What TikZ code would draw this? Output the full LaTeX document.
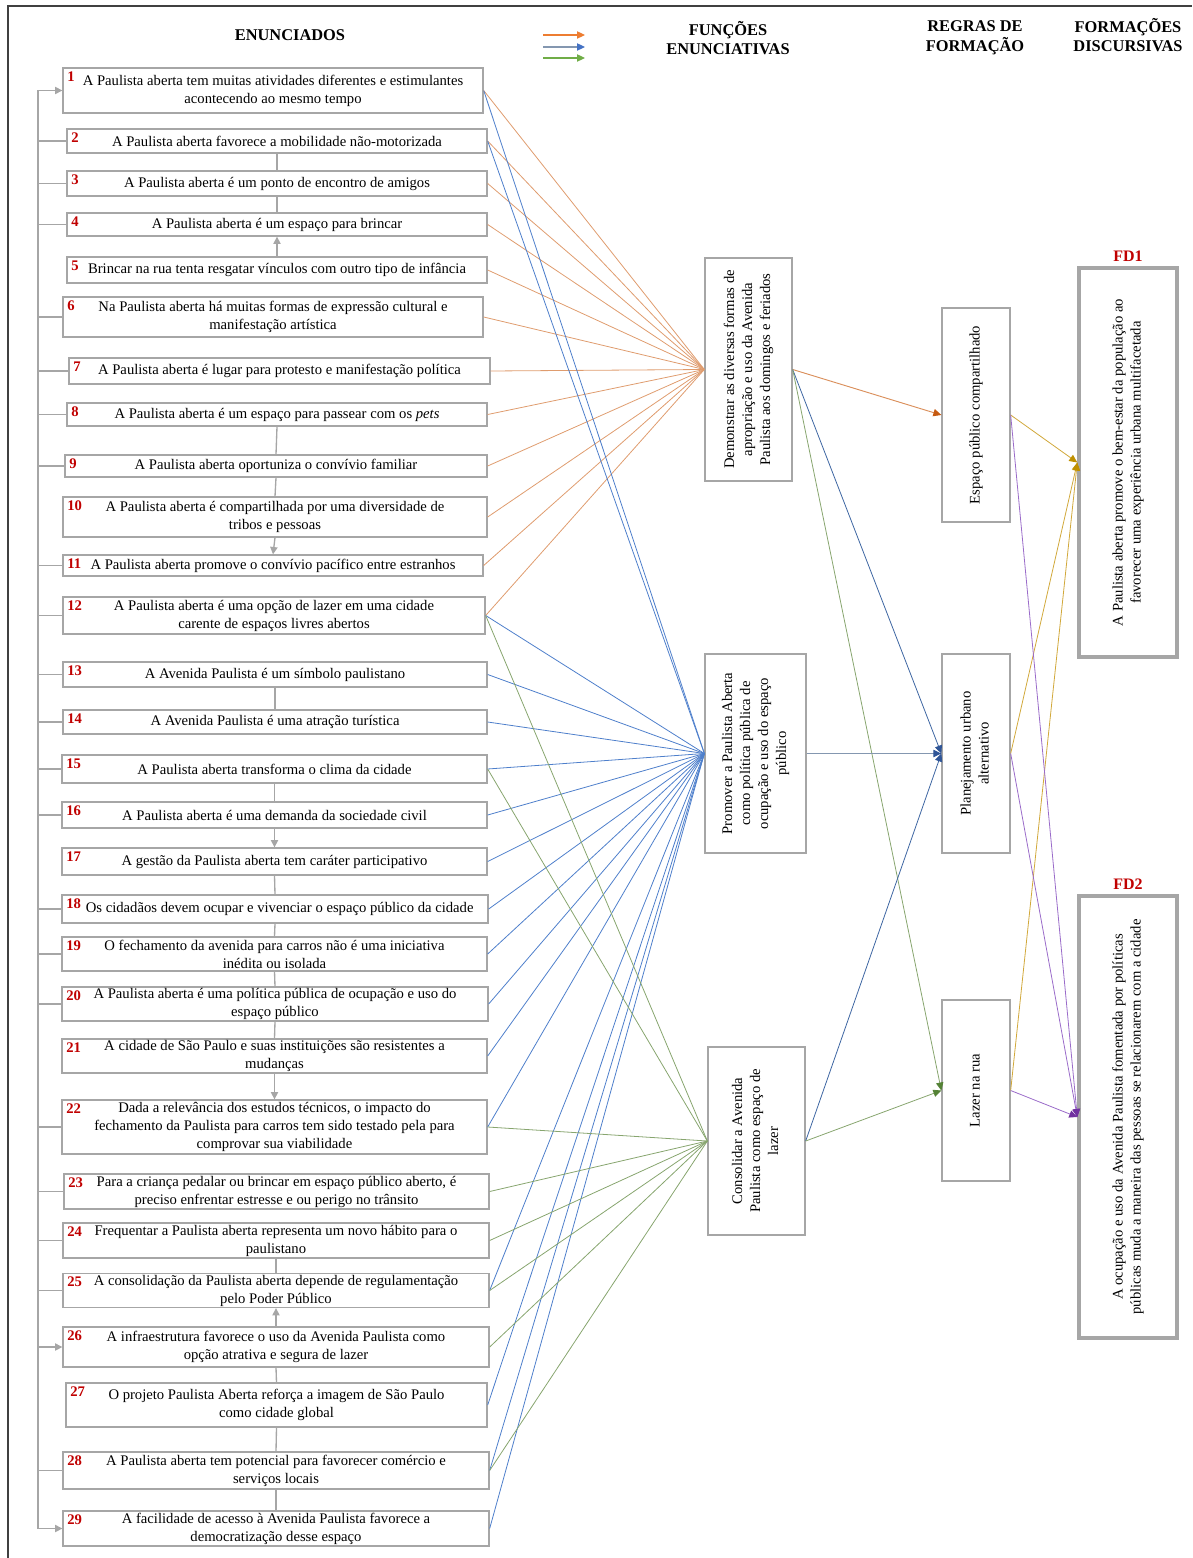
\documentclass[tikz,border=0pt]{standalone}
\usepackage{fontspec}
\setmainfont{Liberation Serif}
\usetikzlibrary{arrows.meta,positioning}

\definecolor{bxgr}{HTML}{A6A6A6}
\definecolor{frmgr}{HTML}{404040}
\definecolor{numred}{HTML}{C00000}
\definecolor{orline}{HTML}{DF9C6E}
\definecolor{blline}{HTML}{4E7FCB}
\definecolor{grline}{HTML}{87A56E}
\definecolor{ortip}{HTML}{C55A11}
\definecolor{orlegend}{HTML}{ED7D31}
\definecolor{bltip}{HTML}{2F5597}
\definecolor{bllegend}{HTML}{4472C4}
\definecolor{grtip}{HTML}{548235}
\definecolor{grlegend}{HTML}{70AD47}
\definecolor{gdline}{HTML}{D1A83A}
\definecolor{gdtip}{HTML}{BF9000}
\definecolor{ppline}{HTML}{9A6BC9}
\definecolor{pptip}{HTML}{7030A0}
\definecolor{slate}{HTML}{8497B0}

\tikzset{
  enun/.style={draw=bxgr, line width=1pt, align=center, inner sep=1pt,
    font=\fontsize{11}{13.5}\selectfont},
  enumnum/.style={anchor=north west, inner sep=1pt, text=numred,
    font=\bfseries\fontsize{11}{13}\selectfont},
  func/.style={draw=bxgr, line width=1pt, inner sep=1pt,
    font=\fontsize{11}{13.5}\selectfont},
  fdbox/.style={func, line width=2.6pt},
  head/.style={align=center, font=\bfseries\fontsize{12.3}{14.8}\selectfont},
  fdlbl/.style={inner sep=1pt, text=numred, font=\bfseries\fontsize{12}{14}\selectfont},
  frame/.style={draw=frmgr, line width=0.8pt},
  brk/.style={draw=bxgr, line width=1pt},
  brkar/.style={brk, -{Triangle[length=5.5pt,width=5.5pt]}},
  orln/.style={draw=orline, line width=0.6pt},
  blln/.style={draw=blline, line width=0.6pt},
  grln/.style={draw=grline, line width=0.6pt},
  arhd/.style={-{Triangle[length=6pt,width=5.5pt,color=#1]}},
}

% name, x1, y1, x2, y2, number, text
\newcommand\enun[7]{%
  \node[enun, minimum width={(#4-#2)*0.75pt}, minimum height={(#5-#3)*0.75pt}]
    (#1) at ({(#2+#4)/2},{(#3+#5)/2}) {#7};
  \node[enumnum] (#1n) at ([shift={(2.5pt,-2pt)}]#1.north west) {#6};}
\newcommand\vlabel[1]{\rotatebox{90}{\begin{tabular}{@{}c@{}}#1\end{tabular}}}

\begin{document}
\begin{tikzpicture}[x=0.75pt,y=-0.75pt]
  \useasboundingbox (0,0) rectangle (1192,1558);
  %%%%% FRAME %%%%%
  \coordinate (fa) at (8,1558);
  \coordinate (fb) at (8,6);
  \coordinate (fc) at (1192,6);
  \draw[frame] (fa) -- (fb) -- (fc);

  %%%%% HEADERS %%%%%
  \node[head] (hen) at (290,35) {ENUNCIADOS};
  \node[head] (hfe) at (728,38) {FUNÇÕES\\ENUNCIATIVAS};
  \node[head] (hrf) at (975,38) {REGRAS DE\\FORMAÇÃO};
  \node[head] (hfd) at (1128,35) {FORMAÇÕES\\DISCURSIVAS};

  \coordinate (lg1a) at (543,35); \coordinate (lg1b) at (585,35);
  \coordinate (lg2a) at (543,47); \coordinate (lg2b) at (585,47);
  \coordinate (lg3a) at (543,58); \coordinate (lg3b) at (585,58);
  \draw[draw=orlegend, line width=0.8pt, arhd=orlegend] (lg1a) -- (lg1b);
  \draw[draw=slate, line width=0.8pt, arhd=bllegend] (lg2a) -- (lg2b);
  \draw[draw=grlegend, line width=0.8pt, arhd=grlegend] (lg3a) -- (lg3b);

  %%%%% ENUNCIADOS %%%%%
  \enun{e1}{63}{68}{483}{113}{1}{A Paulista aberta tem muitas atividades diferentes e estimulantes\\acontecendo ao mesmo tempo}
  \enun{e2}{67}{129}{487}{153}{2}{A Paulista aberta favorece a mobilidade não-motorizada}
  \enun{e3}{67}{171}{487}{196}{3}{A Paulista aberta é um ponto de encontro de amigos}
  \enun{e4}{67}{213}{487}{236}{4}{A Paulista aberta é um espaço para brincar}
  \enun{e5}{67}{257}{487}{283}{5}{Brincar na rua tenta resgatar vínculos com outro tipo de infância}
  \enun{e6}{63}{297}{483}{337}{6}{Na Paulista aberta há muitas formas de expressão cultural e\\manifestação artística}
  \enun{e7}{69}{358}{490}{384}{7}{A Paulista aberta é lugar para protesto e manifestação política}
  \enun{e8}{67}{403}{487}{426}{8}{A Paulista aberta é um espaço para passear com os \textit{pets}}
  \enun{e9}{65}{455}{487}{477}{9}{A Paulista aberta oportuniza o convívio familiar}
  \enun{e10}{63}{497}{487}{537}{10}{A Paulista aberta é compartilhada por uma diversidade de\\tribos e pessoas}
  \enun{e11}{63}{555}{483}{576}{11}{A Paulista aberta promove o convívio pacífico entre estranhos}
  \enun{e12}{63}{597}{485}{634}{12}{A Paulista aberta é uma opção de lazer em uma cidade\\carente de espaços livres abertos}
  \enun{e13}{63}{662}{487}{687}{13}{A Avenida Paulista é um símbolo paulistano}
  \enun{e14}{63}{710}{487}{734}{14}{A Avenida Paulista é uma atração turística}
  \enun{e15}{62}{755}{487}{783}{15}{A Paulista aberta transforma o clima da cidade}
  \enun{e16}{62}{802}{487}{828}{16}{A Paulista aberta é uma demanda da sociedade civil}
  \enun{e17}{62}{848}{487}{875}{17}{A gestão da Paulista aberta tem caráter participativo}
  \enun{e18}{62}{895}{488}{923}{18}{\hspace*{7pt}Os cidadãos devem ocupar e vivenciar o espaço público da cidade}
  \enun{e19}{62}{937}{487}{971}{19}{O fechamento da avenida para carros não é uma iniciativa\\inédita ou isolada}
  \enun{e20}{62}{987}{488}{1021}{20}{A Paulista aberta é uma política pública de ocupação e uso do\\espaço público}
  \enun{e21}{62}{1039}{487}{1073}{21}{A cidade de São Paulo e suas instituições são resistentes a\\mudanças}
  \enun{e22}{62}{1100}{487}{1154}{22}{Dada a relevância dos estudos técnicos, o impacto do\\fechamento da Paulista para carros tem sido testado pela para\\comprovar sua viabilidade}
  \enun{e23}{64}{1174}{489}{1209}{23}{Para a criança pedalar ou brincar em espaço público aberto, é\\preciso enfrentar estresse e ou perigo no trânsito}
  \enun{e24}{63}{1223}{489}{1258}{24}{Frequentar a Paulista aberta representa um novo hábito para o\\paulistano}
  \enun{e25}{63}{1274}{489}{1307}{25}{A consolidação da Paulista aberta depende de regulamentação\\pelo Poder Público}
  \enun{e26}{63}{1327}{489}{1367}{26}{A infraestrutura favorece o uso da Avenida Paulista como\\opção atrativa e segura de lazer}
  \enun{e27}{66}{1383}{487}{1427}{27}{O projeto Paulista Aberta reforça a imagem de São Paulo\\como cidade global}
  \enun{e28}{63}{1452}{489}{1489}{28}{A Paulista aberta tem potencial para favorecer comércio e\\serviços locais}
  \enun{e29}{63}{1511}{489}{1546}{29}{A facilidade de acesso à Avenida Paulista favorece a\\democratização desse espaço}

  % bracket on the left
  \coordinate (bx) at (38,0);
  \draw[brk] (e1.west -| bx) -- (e29.west -| bx);
  \foreach \i in {2,3,4,6,7,8,9,11,12,13,14,15,16,18,19,20,22,23,24,25,28}
    \draw[brk] (e\i.west -| bx) -- (e\i.west);
  \foreach \i in {1,26,29}
    \draw[brkar] (e\i.west -| bx) -- (e\i.west);

  % links between statements
  \foreach \a/\b in {2/3,3/4,8/9,9/10,13/14,15/16,17/18,18/19,19/20,20/21,24/25,26/27,27/28,28/29}
    \draw[brk] (e\a.south) -- (e\b.north);
  \foreach \a/\b in {10/11,16/17,21/22}
    \draw[brkar] (e\a.south) -- (e\b.north);
  \foreach \a/\b in {5/4,26/25}
    \draw[brkar] (e\a.north) -- (e\b.south);

  %%%%% FUNCOES %%%%%
  \node[func, minimum width=87*0.75pt, minimum height=223*0.75pt] (f1) at (748.5,369.5)
    {\vlabel{Demonstrar as diversas formas de\\apropriação e uso da Avenida\\Paulista aos domingos e feriados}};
  \node[func, minimum width=101*0.75pt, minimum height=199*0.75pt] (f2) at (755.5,753.5)
    {\vlabel{Promover a Paulista Aberta\\como política pública de\\ocupação e uso do espaço\\público}};
  \node[func, minimum width=97*0.75pt, minimum height=188*0.75pt] (f3) at (756.5,1141)
    {\vlabel{Consolidar a Avenida\\Paulista como espaço de\\lazer}};

  \foreach \i in {1,...,12}
    \draw[orln] (e\i.east) -- (f1.west);
  \foreach \i in {1,2,12,13,14,15,16,17,18,19,20,21,22,25,27,28,29}
    \draw[blln] (e\i.east) -- (f2.west);
  \foreach \i in {12,15,22,23,24,25,26,28}
    \draw[grln] (e\i.east) -- (f3.west);

  %%%%% REGRAS %%%%%
  \node[func, minimum width=68*0.75pt, minimum height=214*0.75pt] (r1) at (976,415)
    {\vlabel{Espaço público compartilhado}};
  \node[func, minimum width=68*0.75pt, minimum height=199*0.75pt] (r2) at (976,753.5)
    {\vlabel{Planejamento urbano\\alternativo}};
  \node[func, minimum width=68*0.75pt, minimum height=181*0.75pt] (r3) at (976,1090.5)
    {\vlabel{Lazer na rua}};

  \draw[draw=orline!80!ortip, line width=0.7pt, arhd=ortip] (f1.east) -- (r1.west);
  \draw[draw=blline!80!black, line width=0.6pt, arhd=bltip] (f1.east) -- (r2.west);
  \draw[draw=grline, line width=0.6pt, arhd=grtip] (f1.east) -- (r3.west);
  \draw[draw=slate, line width=0.8pt, arhd=bltip] (f2.east) -- (r2.west);
  \draw[draw=blline!80!black, line width=0.6pt, arhd=bltip] (f3.east) -- (r2.west);
  \draw[draw=grline, line width=0.6pt, arhd=grtip] (f3.east) -- (r3.west);

  %%%%% FORMACOES %%%%%
  \node[fdbox, minimum width=98*0.75pt, minimum height=389*0.75pt] (fd1) at (1128,462.5)
    {\vlabel{A Paulista aberta promove o bem-estar da população ao\\favorecer uma experiência urbana multifacetada}};
  \node[fdbox, minimum width=98*0.75pt, minimum height=442*0.75pt] (fd2) at (1128,1117)
    {\vlabel{A ocupação e uso da Avenida Paulista fomentada por políticas\\públicas muda a maneira das pessoas se relacionarem com a cidade}};
  \node[fdlbl, above=2pt of fd1] (fd1t) {FD1};
  \node[fdlbl, above=2pt of fd2] (fd2t) {FD2};

  \foreach \r in {r1,r2,r3}
    \draw[draw=gdline, line width=0.6pt, arhd=gdtip] (\r.east) -- (fd1.west);
  \foreach \r in {r1,r2,r3}
    \draw[draw=ppline, line width=0.6pt, arhd=pptip] (\r.east) -- (fd2.west);
\end{tikzpicture}
\end{document}
